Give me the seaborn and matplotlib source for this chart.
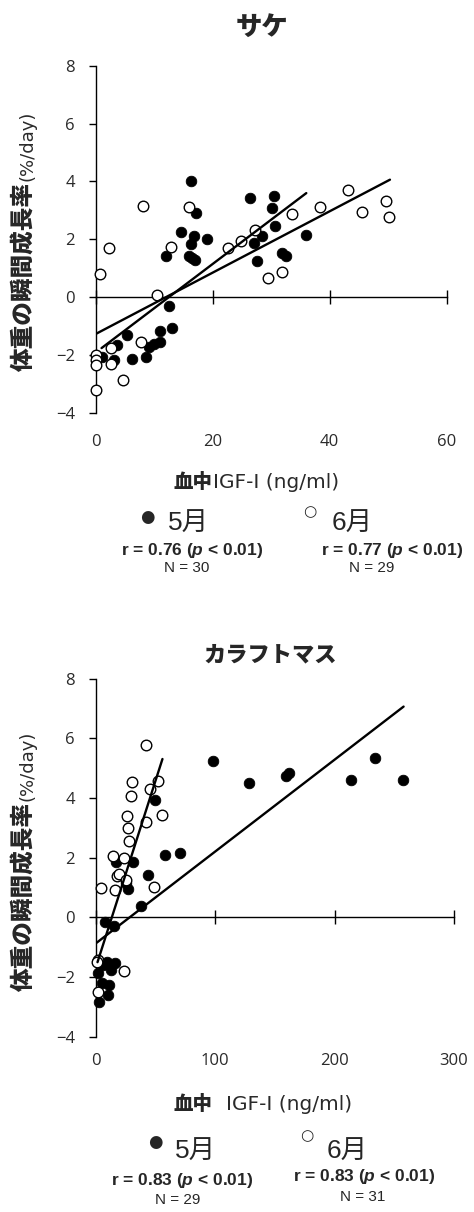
import numpy as np
import pandas as pd
import matplotlib
matplotlib.use("Agg")
import matplotlib.pyplot as plt
import seaborn as sns

# ---------------- data ----------------
# サケ (chum salmon)
salmon_may_igf = [16.3, 17.2, 14.6, 16.75, 19.0, 16.35, 12.1, 16.0, 16.4, 17.0,
                  26.4, 30.4, 30.1, 30.6, 28.4, 27.1, 27.5, 31.9, 32.5, 35.9,
                  12.5, 13.0, 11.0, 11.0, 10.0, 9.1, 8.6, 5.4, 3.7, 6.2, 3.1, 1.0]
salmon_may_growth = [4.0, 2.9, 2.25, 2.13, 2.0, 1.83, 1.41, 1.42, 1.34, 1.28,
                     3.44, 3.5, 3.07, 2.47, 2.1, 1.86, 1.26, 1.53, 1.43, 2.14,
                     -0.29, -1.06, -1.16, -1.54, -1.63, -1.72, -2.08, -1.29, -1.65, -2.12, -2.16, -2.08]
salmon_jun_igf = [8.1, 15.9, 2.3, 12.9, 0.7, 10.4, 22.6, 24.9, 27.3, 29.4, 31.8, 33.6,
                  38.4, 43.2, 45.6, 49.6, 50.1, 7.8, 2.6, 2.7, 4.7, 0.0, 0.0, 0.0, 0.0]
salmon_jun_growth = [3.16, 3.12, 1.69, 1.72, 0.81, 0.06, 1.71, 1.93, 2.34, 0.68, 0.86, 2.87,
                     3.12, 3.71, 2.96, 3.32, 2.77, -1.54, -1.76, -2.31, -2.87, -1.99, -2.16, -2.33, -3.2]

# カラフトマス (pink salmon)
pink_may_igf = [98.0, 128.5, 159.2, 161.5, 213.7, 234.1, 257.3, 50.0, 57.8, 70.4, 43.6, 38.0,
                17.3, 31.3, 25.4, 26.8, 8.1, 15.1, 9.2, 16.2, 2.2, 5.6, 11.2, 10.0, 2.8, 13.0, 6.5]
pink_may_growth = [5.24, 4.49, 4.75, 4.83, 4.61, 5.33, 4.61, 3.94, 2.09, 2.15, 1.42, 0.38,
                   1.84, 1.85, 1.16, 0.94, -0.15, -0.28, -1.49, -1.54, -1.88, -2.21, -2.27, -2.6, -2.83, -1.75, -1.6]
pink_jun_igf = [42.5, 30.7, 52.5, 45.5, 29.3, 26.5, 55.9, 42.5, 27.1, 27.7, 14.5, 23.5,
                18.2, 19.5, 25.1, 4.5, 16.2, 48.9, 1.7, 24.0, 2.2, 0.8]
pink_jun_growth = [5.78, 4.53, 4.57, 4.31, 4.08, 3.39, 3.43, 3.18, 2.98, 2.57, 2.07, 1.99,
                   1.39, 1.45, 1.25, 0.98, 0.92, 1.03, -1.43, -1.79, -2.49, -1.49]

# regression lines: (intercept, slope, x_start, x_end)
salmon_may_fit = (-1.91, 0.153, 1.0, 36.0)
salmon_jun_fit = (-1.27, 0.106, 0.0, 50.3)
pink_may_fit = (-0.875, 0.0308, 0.8, 257.8)
pink_jun_fit = (-1.69, 0.1252, 1.5, 55.9)

titles = ["サケ", "カラフトマス"]
months = ["5月", "6月"]
salmon_stats = ["r = 0.76 ($p$ < 0.01)", "r = 0.77 ($p$ < 0.01)"]
salmon_n = ["N = 30", "N = 29"]
pink_stats = ["r = 0.83 ($p$ < 0.01)", "r = 0.83 ($p$ < 0.01)"]
pink_n = ["N = 29", "N = 31"]
salmon_xticks = [0, 20, 40, 60]
pink_xticks = [0, 100, 200, 300]
yticks = [-4, -2, 0, 2, 4, 6, 8]

# ---------------- style ----------------
sns.set_style("white")
plt.rcParams["font.family"] = ["Open Sans", "Noto Sans CJK JP", "DejaVu Sans"]
plt.rcParams["mathtext.fontset"] = "custom"
plt.rcParams["mathtext.it"] = "Liberation Sans:italic:bold"
plt.rcParams["mathtext.rm"] = "Liberation Sans:bold"

W, H = 474, 1212
fig = plt.figure(figsize=(W / 100, H / 100), dpi=100)
fig.patch.set_facecolor("white")


def fx(px):
    return px / W


def fy(py):
    return 1 - py / H


CJK_BOLD = ["Noto Sans CJK JP"]
LIGHT_FAMILY = ["Open Sans", "DejaVu Sans"]
WIDE_FAMILY = ["DejaVu Sans"]
TICK_FONT = dict(family=LIGHT_FAMILY, weight="normal", size=12)
TEXT_GREY = "#2a2a2a"


def make_panel(rect, xmax, xticks, label_pad, may_x, may_y, jun_x, jun_y, fit_may, fit_jun):
    ax = fig.add_axes(rect)
    may = pd.DataFrame({"igf": may_x, "g": may_y})
    jun = pd.DataFrame({"igf": jun_x, "g": jun_y})
    sns.scatterplot(data=may, x="igf", y="g", ax=ax, color="black", edgecolor="black",
                    s=58, linewidth=0.6, zorder=3, clip_on=False)
    sns.scatterplot(data=jun, x="igf", y="g", ax=ax, color="white", edgecolor="black",
                    s=58, linewidth=1.0, zorder=3, clip_on=False)
    for a, b, x0, x1 in (fit_may, fit_jun):
        xs = np.array([x0, x1])
        sns.lineplot(x=xs, y=a + b * xs, ax=ax, color="black", linewidth=1.7,
                     zorder=4, estimator=None, sort=False)
    ax.set_xlim(0, xmax)
    ax.set_ylim(-4, 8)
    ax.set_yticks(yticks)
    ax.set_xticks(xticks)
    ax.set_xlabel("")
    ax.set_ylabel("")
    for s in ("top", "right"):
        ax.spines[s].set_visible(False)
    ax.spines["bottom"].set_position(("data", 0))
    for s in ("left", "bottom"):
        ax.spines[s].set_linewidth(1.0)
        ax.spines[s].set_color("black")
    ax.tick_params(axis="x", direction="inout", length=10, width=1.0, colors="black",
                   labelbottom=False, bottom=True)
    ax.tick_params(axis="y", direction="out", length=5, width=1.0, colors="black",
                   pad=10, left=True)
    for lab in ax.get_yticklabels():
        lab.set_fontproperties(matplotlib.font_manager.FontProperties(**TICK_FONT))
        lab.set_color(TEXT_GREY)
    sec = ax.secondary_xaxis("bottom")
    sec.set_xticks(xticks)
    sec.tick_params(length=0, pad=label_pad)
    sec.spines["bottom"].set_visible(False)
    for lab in sec.get_xticklabels():
        lab.set_fontproperties(matplotlib.font_manager.FontProperties(**TICK_FONT))
        lab.set_color(TEXT_GREY)
    ax.grid(False)
    return ax


ax1 = make_panel([fx(95.7), fy(413), 351 / W, 347.3 / H], 60, salmon_xticks, 15,
                 salmon_may_igf, salmon_may_growth, salmon_jun_igf, salmon_jun_growth,
                 salmon_may_fit, salmon_jun_fit)
ax2 = make_panel([fx(95.7), fy(1036.7), 358.3 / W, 358 / H], 300, pink_xticks, 12,
                 pink_may_igf, pink_may_growth, pink_jun_igf, pink_jun_growth,
                 pink_may_fit, pink_jun_fit)


def texts(offset, title, title_x, title_y, title_size, xlab_gap, stats, ns, layout):
    fig.text(fx(title_x), fy(title_y), title, ha="center", va="center",
             family=CJK_BOLD, weight="black", size=title_size)
    # y label
    split = 182 + offset
    fig.text(fx(24), fy(split), "体重の瞬間成長率", rotation=90, ha="center", va="top",
             family=CJK_BOLD, weight="black", size=17)
    fig.text(fx(27), fy(split - 1), "(%/day)", rotation=90, ha="center", va="bottom",
             family=WIDE_FAMILY, weight="normal", size=13, color=TEXT_GREY)
    # x label
    base = layout["xlab_base"]
    fig.text(fx(212), fy(base), "血中", ha="right", va="baseline",
             family=CJK_BOLD, weight="black", size=14)
    fig.text(fx(212 + xlab_gap), fy(base), "IGF-I (ng/ml)", ha="left", va="baseline",
             family=WIDE_FAMILY, weight="normal", size=14.5, color=TEXT_GREY)
    # legend-like text
    fig.text(fx(layout["dot1"][0]), fy(layout["dot1"][1]), "●", ha="center", va="center",
             family=["DejaVu Sans"], size=12)
    fig.text(fx(layout["dot2"][0]), fy(layout["dot2"][1]), "○", ha="center", va="center",
             family=["DejaVu Sans"], size=11)
    fig.text(fx(layout["m1"][0]), fy(layout["m1"][1]), months[0], ha="left", va="baseline",
             family=["Liberation Sans", "Noto Sans CJK JP"], size=19)
    fig.text(fx(layout["m2"][0]), fy(layout["m2"][1]), months[1], ha="left", va="baseline",
             family=["Liberation Sans", "Noto Sans CJK JP"], size=19)
    for (sx, sy), s in zip(layout["stats"], stats):
        fig.text(fx(sx), fy(sy), s, ha="center", va="center",
                 family=["Liberation Sans"], weight="bold", size=12.5)
    for (nx, ny), n in zip(layout["ns"], ns):
        fig.text(fx(nx), fy(ny), n, ha="center", va="center",
                 family=["Liberation Sans"], size=11)


texts(0, titles[0], 262, 27, 19, 1, salmon_stats, salmon_n,
      dict(xlab_base=488, dot1=(147, 517), dot2=(310, 512), m1=(168, 531), m2=(332, 531),
           stats=[(192, 550), (392, 550)], ns=[(187, 568), (372, 568)]))
texts(619.6, titles[1], 270, 655, 16, 14, pink_stats, pink_n,
      dict(xlab_base=1110, dot1=(155, 1142), dot2=(307, 1136), m1=(175, 1159), m2=(327, 1159),
           stats=[(182, 1180), (364, 1177)], ns=[(178, 1200), (363, 1197)]))

fig.savefig("out.png", dpi=100, facecolor="white")
